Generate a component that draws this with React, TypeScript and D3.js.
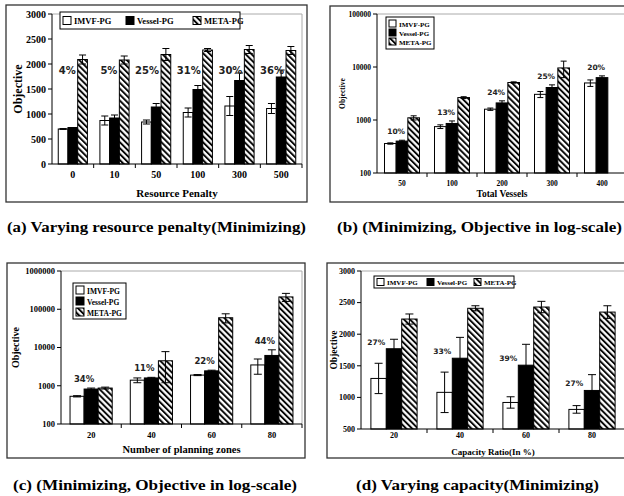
import React from 'react';
import * as d3 from 'd3';

const seriesNames = ['IMVF-PG', 'Vessel-PG', 'META-PG'];

// (a) resource penalty
const penaltyCats = ['0', '10', '50', '100', '300', '500'];
const penaltyImvf = [700, 870, 840, 1030, 1160, 1110];
const penaltyImvfErr = [8, 90, 40, 90, 190, 100];
const penaltyVessel = [730, 920, 1140, 1490, 1670, 1740];
const penaltyVesselErr = [0, 60, 70, 80, 150, 140];
const penaltyMeta = [2090, 2080, 2190, 2280, 2290, 2270];
const penaltyMetaErr = [90, 80, 120, 30, 80, 80];
const penaltyGain = ['4%', '5%', '25%', '31%', '30%', '36%'];
const penaltyTicks = [0, 500, 1000, 1500, 2000, 2500, 3000];

// (b) total vessels (log)
const vesselCats = ['50', '100', '200', '300', '400'];
const vesselImvf = [360, 750, 1600, 3050, 5000];
const vesselImvfErr = [10, 60, 80, 400, 700];
const vesselVessel = [400, 860, 2100, 4100, 6300];
const vesselVesselErr = [15, 100, 200, 500, 500];
const vesselMeta = [1100, 2650, 5100, 9600, null];
const vesselMetaErr = [100, 100, 150, 3300, null];
const vesselGain = ['10%', '13%', '24%', '25%', '20%'];
const vesselTicks = [100, 1000, 10000, 100000];

// (c) planning zones (log)
const zoneCats = ['20', '40', '60', '80'];
const zoneImvf = [530, 1400, 1900, 3500];
const zoneImvfErr = [20, 200, 60, 1500];
const zoneVessel = [820, 1600, 2450, 6200];
const zoneVesselErr = [50, 60, 100, 2500];
const zoneMeta = [870, 4500, 60000, 210000];
const zoneMetaErr = [50, 3300, 16000, 50000];
const zoneGain = ['34%', '11%', '22%', '44%'];
const zoneTicks = [100, 1000, 10000, 100000, 1000000];

// (d) capacity ratio
const capCats = ['20', '40', '60', '80'];
const capImvf = [1300, 1080, 920, 810];
const capImvfErr = [240, 320, 90, 60];
const capVessel = [1770, 1620, 1510, 1110];
const capVesselErr = [150, 330, 330, 250];
const capMeta = [2240, 2410, 2430, 2350];
const capMetaErr = [80, 40, 90, 100];
const capGain = ['27%', '33%', '39%', '27%'];
const capTicks = [500, 1000, 1500, 2000, 2500, 3000];

const SERIF = '"Liberation Serif", serif';
const SANS = '"DejaVu Sans", sans-serif';

const fills = ['#fff', '#000', 'url(#hatch)'];

type Cfg = {
  frame: [number, number, number, number];
  x0: number; x1: number; yTop: number; yBottom: number;
  log: boolean; domain: [number, number]; ticks: number[];
  cats: string[]; values: (number | null)[][]; errs: (number | null)[][]; gains: string[];
  labelMode: 'fixed' | 'above' | 'leftOfVessel'; fixedLevel?: number;
  tickFs: number; xTitle: string; xTitleFs: number; xTitleY: number; xTickY: number;
  yTitleFs: number; yTitleX: number;
  gainFs: number; cap: number;
  legend: { x: number; y: number; w: number; h: number; row: boolean; fs: number; sq: number; pos: number[] };
  caption: string; capX: number; capY: number; capW: number;
};

const Panel = ({ c }: { c: Cfg }) => {
  const y = c.log
    ? d3.scaleLog().domain(c.domain).range([c.yBottom, c.yTop])
    : d3.scaleLinear().domain(c.domain).range([c.yBottom, c.yTop]);
  const x = d3.scaleBand<string>().domain(c.cats).range([c.x0, c.x1]).paddingInner(0.3).paddingOuter(0.15);
  const xs = d3.scaleBand<number>().domain([0, 1, 2]).range([0, x.bandwidth()]);
  const bw = xs.bandwidth();
  const step = x.step();
  const [fx, fy, fw, fh] = c.frame;
  const fmt = d3.format('d');
  const L = c.legend;
  return (
    <g>
      <rect x={fx} y={fy} width={fw} height={fh} fill="#fff" stroke="#333" strokeWidth={1.3} />
      <line x1={c.x0} x2={c.x1} y1={c.yTop} y2={c.yTop} stroke="#aaa" />
      <line x1={c.x1} x2={c.x1} y1={c.yTop} y2={c.yBottom} stroke="#aaa" />
      {c.cats.map((cat, i) => (
        <g key={cat}>
          {c.values.map((vals, s) => {
            const v = vals[i];
            if (v == null) return null;
            const bx = (x(cat) as number) + (xs(s) as number);
            const top = y(v);
            const e = c.errs[s][i] || 0;
            const cx = bx + bw / 2;
            return (
              <g key={s}>
                <rect x={bx} y={top} width={bw} height={c.yBottom - top} fill={fills[s]} stroke="#000" strokeWidth={1} />
                {e > 0 && (
                  <g stroke="#000" strokeWidth={1}>
                    <line x1={cx} x2={cx} y1={y(v + e)} y2={y(v - e)} />
                    <line x1={cx - c.cap / 2} x2={cx + c.cap / 2} y1={y(v + e)} y2={y(v + e)} />
                    <line x1={cx - c.cap / 2} x2={cx + c.cap / 2} y1={y(v - e)} y2={y(v - e)} />
                  </g>
                )}
              </g>
            );
          })}
        </g>
      ))}
      {c.cats.map((cat, i) => {
        const gx = x(cat) as number;
        let tx = 0, ty = 0, anchor = 'middle';
        if (c.labelMode === 'fixed') {
          tx = gx + (xs(2) as number) - 2;
          ty = y(c.fixedLevel as number);
          anchor = 'end';
        } else if (c.labelMode === 'above') {
          tx = gx + bw;
          const t0 = y((c.values[0][i] as number) + ((c.errs[0][i] as number) || 0));
          const t1 = y((c.values[1][i] as number) + ((c.errs[1][i] as number) || 0));
          ty = Math.min(t0, t1) - 6;
        } else {
          tx = gx + bw - 1;
          ty = y(c.values[1][i] as number) - 4;
          anchor = 'end';
        }
        return (
          <text key={cat} x={tx} y={ty} textAnchor={anchor} fontFamily={SANS} fontWeight="bold" fontSize={c.gainFs} fill="#222">
            {c.gains[i]}
          </text>
        );
      })}
      <g stroke="#000" strokeWidth={1}>
        <line x1={c.x0} x2={c.x0} y1={c.yTop} y2={c.yBottom} />
        <line x1={c.x0} x2={c.x1} y1={c.yBottom} y2={c.yBottom} />
        {c.ticks.map(t => (
          <line key={t} x1={c.x0 - 4} x2={c.x0} y1={y(t)} y2={y(t)} />
        ))}
        {d3.range(1, c.cats.length + 1).map(k => (
          <line key={k} x1={c.x0 + k * step} x2={c.x0 + k * step} y1={c.yBottom} y2={c.yBottom + 4} />
        ))}
      </g>
      {c.ticks.map(t => (
        <text key={t} x={c.x0 - 6} y={y(t) + c.tickFs * 0.35} textAnchor="end" fontFamily={SERIF} fontWeight="bold" fontSize={c.tickFs}>
          {fmt(t)}
        </text>
      ))}
      {c.cats.map(cat => (
        <text key={cat} x={(x(cat) as number) + x.bandwidth() / 2} y={c.xTickY} textAnchor="middle" fontFamily={SERIF} fontWeight="bold" fontSize={c.tickFs}>
          {cat}
        </text>
      ))}
      <text x={(c.x0 + c.x1) / 2} y={c.xTitleY} textAnchor="middle" fontFamily={SERIF} fontWeight="bold" fontSize={c.xTitleFs}>
        {c.xTitle}
      </text>
      <text transform={`translate(${c.yTitleX},${(c.yTop + c.yBottom) / 2}) rotate(-90)`} textAnchor="middle" dy="0.35em" fontFamily={SERIF} fontWeight="bold" fontSize={c.yTitleFs}>
        Objective
      </text>
      <rect x={L.x} y={L.y} width={L.w} height={L.h} fill="#fff" stroke="#000" strokeWidth={1} />
      {seriesNames.map((name, s) => {
        const sx = L.row ? L.pos[s] : L.x + 3;
        const sy = L.row ? L.y + (L.h - L.sq) / 2 : L.pos[s];
        return (
          <g key={name}>
            <rect x={sx} y={sy} width={L.sq} height={L.sq} fill={fills[s]} stroke="#000" strokeWidth={1} />
            <text x={sx + L.sq + 3} y={sy + L.sq - 0.5} fontFamily={SERIF} fontWeight="bold" fontSize={L.fs}>
              {name}
            </text>
          </g>
        );
      })}
      <text x={c.capX} y={c.capY} textLength={c.capW} lengthAdjust="spacingAndGlyphs" fontFamily={SERIF} fontWeight="bold" fontSize={14.5}>
        {c.caption}
      </text>
    </g>
  );
};

const panelA: Cfg = {
  frame: [6, 5, 301, 197], x0: 52, x1: 302, yTop: 14, yBottom: 164,
  log: false, domain: [0, 3000], ticks: penaltyTicks,
  cats: penaltyCats, values: [penaltyImvf, penaltyVessel, penaltyMeta],
  errs: [penaltyImvfErr, penaltyVesselErr, penaltyMetaErr], gains: penaltyGain,
  labelMode: 'fixed', fixedLevel: 1800,
  tickFs: 10, xTitle: 'Resource Penalty', xTitleFs: 11, xTitleY: 197, xTickY: 178,
  yTitleFs: 12, yTitleX: 18, gainFs: 10, cap: 7,
  legend: { x: 60, y: 12, w: 180, h: 17, row: true, fs: 8.5, sq: 8, pos: [63, 126, 193] },
  caption: '(a) Varying resource penalty(Minimizing)', capX: 7, capY: 232, capW: 299,
};

const panelB: Cfg = {
  frame: [330, 6, 310, 196], x0: 377, x1: 627, yTop: 14, yBottom: 173,
  log: true, domain: [100, 100000], ticks: vesselTicks,
  cats: vesselCats, values: [vesselImvf, vesselVessel, vesselMeta],
  errs: [vesselImvfErr, vesselVesselErr, vesselMetaErr], gains: vesselGain,
  labelMode: 'above',
  tickFs: 7.5, xTitle: 'Total Vessels', xTitleFs: 9.5, xTitleY: 197, xTickY: 186,
  yTitleFs: 7.5, yTitleX: 342, gainFs: 7.5, cap: 6,
  legend: { x: 386, y: 17, w: 48, h: 32, row: false, fs: 7, sq: 7, pos: [20, 29, 38] },
  caption: '(b) (Minimizing, Objective in log-scale)', capX: 337, capY: 232, capW: 285,
};

const panelC: Cfg = {
  frame: [7, 263, 298, 195], x0: 61, x1: 302, yTop: 271, yBottom: 424,
  log: true, domain: [100, 1000000], ticks: zoneTicks,
  cats: zoneCats, values: [zoneImvf, zoneVessel, zoneMeta],
  errs: [zoneImvfErr, zoneVesselErr, zoneMetaErr], gains: zoneGain,
  labelMode: 'above',
  tickFs: 8.5, xTitle: 'Number of planning zones', xTitleFs: 10.5, xTitleY: 453, xTickY: 438,
  yTitleFs: 10, yTitleX: 15, gainFs: 8.5, cap: 8,
  legend: { x: 73, y: 283, w: 53, h: 36, row: false, fs: 7.5, sq: 8, pos: [286, 297, 308] },
  caption: '(c) (Minimizing, Objective in log-scale)', capX: 13, capY: 490, capW: 284,
};

const panelD: Cfg = {
  frame: [327, 263, 310, 195], x0: 361, x1: 625, yTop: 271, yBottom: 429,
  log: false, domain: [500, 3000], ticks: capTicks,
  cats: capCats, values: [capImvf, capVessel, capMeta],
  errs: [capImvfErr, capVesselErr, capMetaErr], gains: capGain,
  labelMode: 'leftOfVessel',
  tickFs: 8, xTitle: 'Capacity Ratio(In %)', xTitleFs: 9, xTitleY: 455, xTickY: 438,
  yTitleFs: 9.5, yTitleX: 334, gainFs: 7.5, cap: 8,
  legend: { x: 374, y: 276, w: 140, h: 12, row: true, fs: 7, sq: 7, pos: [377, 427, 474] },
  caption: '(d) Varying capacity(Minimizing)', capX: 356, capY: 490, capW: 243,
};

const App = () => (
  <svg width={624} height={496} style={{ position: 'absolute', left: 0, top: 0, overflow: 'hidden', background: '#fff' }}>
    <defs>
      <pattern id="hatch" patternUnits="userSpaceOnUse" width={4.2} height={4.2} patternTransform="rotate(-45)">
        <rect width={4.2} height={4.2} fill="#fff" />
        <line x1={1} x2={1} y1={0} y2={4.2} stroke="#000" strokeWidth={1.9} />
      </pattern>
    </defs>
    <Panel c={panelA} />
    <Panel c={panelB} />
    <Panel c={panelC} />
    <Panel c={panelD} />
  </svg>
);

export default App;
